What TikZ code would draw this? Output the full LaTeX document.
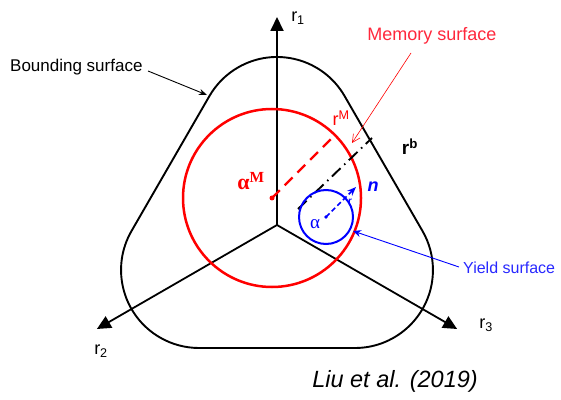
\documentclass[tikz,border=0pt]{standalone}
\usepackage{fontspec}
\setmainfont{Liberation Sans}
\newfontfamily\serifb{Liberation Serif}
\usetikzlibrary{arrows.meta,calc}
\definecolor{memred}{RGB}{255,0,0}
\definecolor{ylblue}{RGB}{0,0,255}
\definecolor{txtblue}{RGB}{40,40,255}
\definecolor{txtred}{RGB}{255,40,60}
\begin{document}
\begin{tikzpicture}[x=1pt,y=1pt,
  axis/.style={line width=1.8pt,-{Triangle[length=14pt,width=13pt]}},
  lbl/.style={inner sep=0pt,font=\fontsize{17}{17}\selectfont},
  pointer/.style={line width=0.9pt}]
\useasboundingbox (0,0) rectangle (561,399);
\coordinate (O) at (277,174);
\coordinate (T1) at (277,382);
\coordinate (T2) at ($(O)+(210:208)$);
\coordinate (T3) at ($(O)+(330:208)$);
% bounding surface: rounded triangle
\coordinate (V1) at ($(O)+(90:90)$);
\coordinate (V2) at ($(O)+(210:90)$);
\coordinate (V3) at ($(O)+(330:90)$);
\draw[line width=1.9pt] ($(V1)+(30:78)$) arc[start angle=30,end angle=150,radius=78]
  -- ($(V2)+(150:78)$) arc[start angle=150,end angle=270,radius=78]
  -- ($(V3)+(270:78)$) arc[start angle=270,end angle=390,radius=78] -- cycle;
% axes
\draw[axis] (O) -- (T1);
\draw[axis] (O) -- (T2);
\draw[axis] (O) -- (T3);
\node[lbl,font=\fontsize{18}{18}\selectfont] (r1) at (298,381) {r\textsubscript{1}};
\node[lbl,font=\fontsize{18}{18}\selectfont] (r2) at (101,48) {r\textsubscript{2}};
\node[lbl,font=\fontsize{18}{18}\selectfont] (r3) at (486,74) {r\textsubscript{3}};
% memory surface
\coordinate (aM) at (272,201);
\draw[memred,line width=2.5pt] (aM) circle[radius=89];
\fill[memred] (aM) circle[radius=2.5];
\coordinate (rMend) at ($(aM)+(45:89)$);
\draw[memred,line width=2.3pt,dash pattern=on 11pt off 7pt] (aM) -- (rMend);
\node[lbl,text=memred,font=\serifb\bfseries\fontsize{22}{22}\selectfont] (aMl) at (251,218) {α\textsuperscript{M}};
\node[lbl,text=memred,font=\fontsize{18}{18}\selectfont] (rMl) at (341,281) {r\textsuperscript{M}};
% black dash-dot
\coordinate (b1) at (298,190);
\coordinate (b2) at (372,261);
\draw[line width=1.9pt,dash pattern=on 12pt off 5pt on 1.5pt off 5pt] (b1) -- (b2);
\node[lbl,font=\bfseries\fontsize{19}{19}\selectfont] (rbl) at (410,252) {r\textsuperscript{b}};
% yield surface
\coordinate (a) at (326,182);
\draw[ylblue,line width=2pt] (a) circle[radius=27];
\fill[ylblue] (a) circle[radius=1.8];
\coordinate (nt) at (356,212);
\draw[ylblue,line width=1.5pt,dash pattern=on 5pt off 3pt,-{Stealth[length=9pt,width=7pt]}] (a) -- (nt);
\node[lbl,text=ylblue,font=\bfseries\itshape\fontsize{18}{18}\selectfont] (nl) at (373,212) {n};
\node[lbl,text=ylblue,font=\fontsize{12}{12}\selectfont] (rl) at (350,197) {r};
\node[lbl,text=ylblue,font=\serifb\fontsize{19}{19}\selectfont] (al) at (315,175) {α};
% labels with pointers
\node[lbl,anchor=west,text=txtblue,font=\fontsize{16}{16}\selectfont] (ys) at (463,131) {Yield surface};
\coordinate (ytip) at (353,168);
\coordinate (ys0) at (459,132);
\draw[pointer,ylblue,-{Stealth[length=8pt,width=7pt]}] (ys0) -- (ytip);
\node[lbl,text=txtred,font=\fontsize{18}{18}\selectfont] (ms) at (432,363) {Memory surface};
\coordinate (mtip) at (352,256);
\coordinate (ms0) at (411,346);
\draw[memred,line width=0.6pt,-{Straight Barb[length=8pt,width=8pt]}] (ms0) -- (mtip);
\node[lbl,anchor=west] (bs) at (10,332) {Bounding surface};
\coordinate (bs0) at (148,328);
\coordinate (btip) at (207,304);
\draw[pointer,-{Stealth[length=8pt,width=6pt]}] (bs0) -- (btip);
\node[lbl,font=\itshape\fontsize{23.5}{23.5}\selectfont] (cite) at (395,18) {Liu et al. (2019)};
\end{tikzpicture}
\end{document}
